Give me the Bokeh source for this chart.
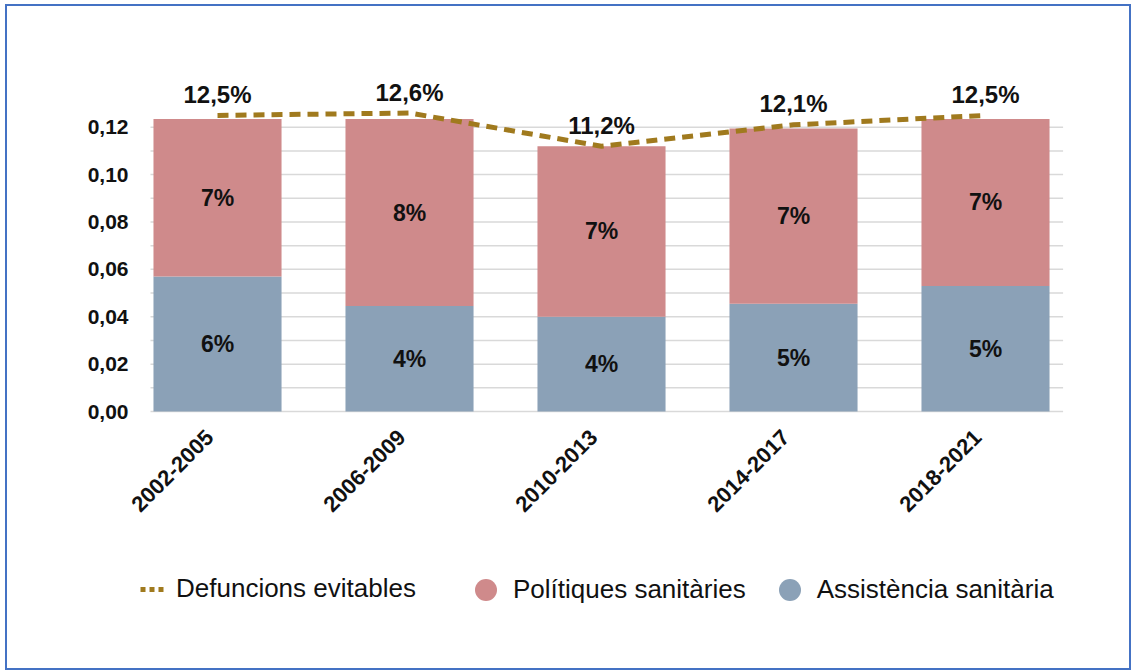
import numpy as np
from bokeh.plotting import figure
from bokeh.models import ColumnDataSource, Range1d, Legend, LegendItem
from bokeh.embed import file_html
from bokeh.resources import INLINE
from bokeh.core.properties import value

# ---- data ----
periods = ["2002-2005", "2006-2009", "2010-2013", "2014-2017", "2018-2021"]
assistencia = [0.057, 0.0445, 0.040, 0.0455, 0.053]
politiques = [0.0665, 0.079, 0.072, 0.074, 0.0705]
defuncions = [0.125, 0.126, 0.112, 0.121, 0.125]
assistencia_labels = ["6%", "4%", "4%", "5%", "5%"]
politiques_labels = ["7%", "8%", "7%", "7%", "7%"]
defuncions_labels = ["12,5%", "12,6%", "11,2%", "12,1%", "12,5%"]
y_ticks = [0.0, 0.02, 0.04, 0.06, 0.08, 0.10, 0.12]
y_minor = [0.01, 0.03, 0.05, 0.07, 0.09, 0.11]
y_tick_labels = ["0,00", "0,02", "0,04", "0,06", "0,08", "0,10", "0,12"]

BLUE = "#8BA1B7"
PINK = "#CF8A8B"
GOLD = "#A07A1E"
GRID = "#D9D9D9"
FONT = "Liberation Sans"
TXT = "#111111"

# horizontal extent of the value grid (in category units)
GRID_X0, GRID_X1 = -0.349, 4.404

idx = list(range(len(periods)))
tops = [a + b for a, b in zip(assistencia, politiques)]
src = ColumnDataSource(dict(
    x=idx, period=periods, a=assistencia, p=politiques, top=tops,
    zero=[0.0] * len(periods),
    a_mid=[a / 2 for a in assistencia],
    p_mid=[a + b / 2 for a, b in zip(assistencia, politiques)],
    a_lab=assistencia_labels, p_lab=politiques_labels,
    d=defuncions, d_lab=defuncions_labels,
))
all_grid = sorted(y_ticks + y_minor)
grid_src = ColumnDataSource(dict(y=all_grid, x0=[GRID_X0] * len(all_grid),
                                 x1=[GRID_X1] * len(all_grid)))
tick_src = ColumnDataSource(dict(y=y_ticks, lab=y_tick_labels, x=[GRID_X0] * len(y_ticks)))

p = figure(width=1126, height=666, output_backend="svg", toolbar_location=None,
           x_range=Range1d(-1.0938, 4.7708), y_range=Range1d(-0.11017, 0.17096),
           min_border=0)
p.styles = {"border": "2px solid #4472C4", "margin-left": "5px", "margin-top": "4px"}
p.outline_line_color = None
p.background_fill_color = "white"
p.border_fill_color = "white"
p.axis.visible = False
p.grid.visible = False

# value grid
p.segment(x0="x0", x1="x1", y0="y", y1="y", source=grid_src, line_color=GRID, line_width=1.5)

# y tick labels
p.text(x="x", y="y", text="lab", source=tick_src, text_align="right", text_baseline="middle",
       x_offset=-22, text_font=value(FONT), text_font_style="bold", text_font_size="21px",
       text_color=TXT)

# bars
p.vbar(x="x", bottom=0, top="a", width=0.667, source=src, fill_color=BLUE, line_color=None)
p.vbar(x="x", bottom="a", top="top", width=0.667, source=src, fill_color=PINK, line_color=None)

# bar labels
for ycol, tcol in (("a_mid", "a_lab"), ("p_mid", "p_lab")):
    p.text(x="x", y=ycol, text=tcol, source=src, text_align="center", text_baseline="middle",
           text_font=value(FONT), text_font_style="bold", text_font_size="23px", text_color=TXT)

# line
p.line(x="x", y="d", source=src, line_color=GOLD, line_width=5, line_dash="11 7")
p.text(x="x", y="d", text="d_lab", source=src, text_align="center", text_baseline="middle",
       y_offset=-21, text_font=value(FONT), text_font_style="bold", text_font_size="24px",
       text_color=TXT)

# category labels (rotated, under the bars)
p.text(x="x", y="zero", text="period", source=src, angle=np.pi / 4,
       text_align="right", text_baseline="middle", x_offset=-8, y_offset=22,
       text_font=value(FONT), text_font_style="bold", text_font_size="22px", text_color=TXT)

# legend-only renderers (one NaN point each: nothing is drawn in the plot)
nan = np.array([np.nan])
leg_line = p.line(x=nan, y=nan, line_color=GOLD, line_width=5, line_dash="5 4")
leg_pink = p.scatter(x=nan, y=nan, marker="circle", fill_color=PINK, line_color=None)
leg_blue = p.scatter(x=nan, y=nan, marker="circle", fill_color=BLUE, line_color=None)

common = dict(orientation="horizontal", border_line_color=None, background_fill_alpha=0,
              padding=0, margin=0, label_text_font=FONT, label_text_font_size="26px",
              label_text_color=TXT)
legA = Legend(items=[LegendItem(label="Defuncions evitables", renderers=[leg_line])],
              location=(133, 68), glyph_width=24, glyph_height=30, label_standoff=12, **common)
legB = Legend(items=[LegendItem(label="Polítiques sanitàries", renderers=[leg_pink]),
                     LegendItem(label="Assistència sanitària", renderers=[leg_blue])],
              location=(451, 55), glyph_width=55, glyph_height=55, label_standoff=0,
              spacing=16, **common)
p.add_layout(legA)
p.add_layout(legB)

open("out.html", "w").write(file_html(p, INLINE))
